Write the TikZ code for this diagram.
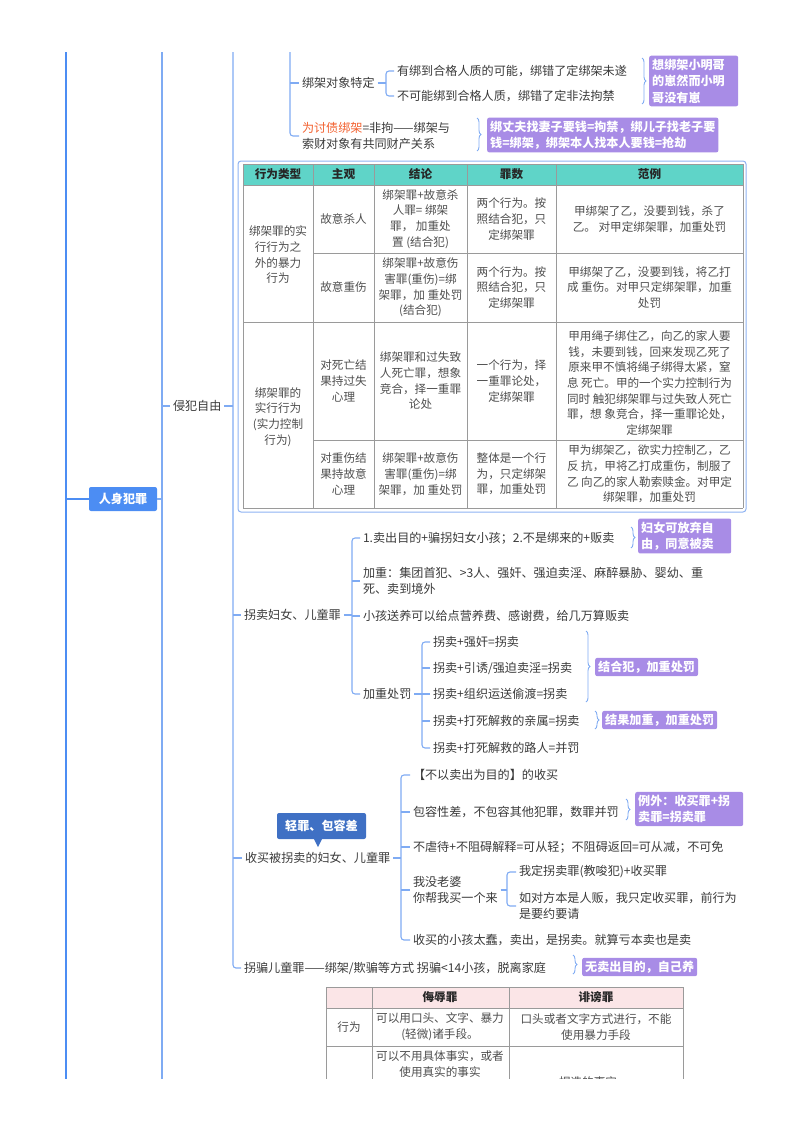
\documentclass[tikz,border=0pt]{standalone}
\usepackage{fontspec}
\setmainfont{Noto Sans CJK SC}
\usetikzlibrary{decorations.pathreplacing,calc}
\definecolor{lineb}{HTML}{7FABF3}
\definecolor{mainb}{HTML}{4C8DF3}
\definecolor{txtc}{HTML}{3A3A3A}
\definecolor{purp}{HTML}{A88CE6}
\definecolor{hteal}{HTML}{5FD4C8}
\definecolor{pinkh}{HTML}{FBE5E7}
\definecolor{gridc}{HTML}{9A9A9A}
\definecolor{cbox}{HTML}{3F70C4}
\definecolor{orng}{HTML}{F2602E}
\definecolor{tblb}{HTML}{8DB2F2}
\tikzset{
 txt/.style={anchor=west, inner sep=0pt, outer sep=3pt, align=left, text=txtc, font=\fontsize{12.1}{16.5}\selectfont},
 pbox/.style={anchor=west, fill=purp, text=white, inner sep=3pt, rounded corners=2pt, align=left, font=\bfseries\fontsize{12.1}{16.5}\selectfont},
 brl/.style={draw=lineb, line width=1.1pt, rounded corners=3pt},
 brc/.style={draw=lineb, line width=0.9pt, decorate, decoration={brace, amplitude=4pt}},
 cell/.style={align=center, inner sep=0pt, text=txtc!90, font=\fontsize{11.6}{15.7}\selectfont},
 hcell/.style={align=center, inner sep=0pt, text=black!85, font=\bfseries\fontsize{11.6}{15}\selectfont},
 gridl/.style={draw=gridc, line width=0.6pt},
}
\begin{document}
\begin{tikzpicture}[x=1pt,y=-1pt]
\useasboundingbox (0,0) rectangle (800,1132);
\begin{scope}
\clip (0,53) rectangle (800,1078);
% ---- main trunks
\draw[mainb, line width=1.8pt] (66,40) -- (66,1090);
\node[fill=mainb, text=white, font=\bfseries\fontsize{12.1}{15}\selectfont, rounded corners=2pt, minimum width=68pt, minimum height=24pt, inner sep=0pt] (rs) at (123,499) {人身犯罪};
\draw[mainb, line width=1.3pt] (66,499) -- (rs.west);
\draw[lineb, line width=1.3pt] (162,40) -- (162,1090);
\draw[lineb, line width=1.3pt] (rs.east) -- (162,499);
\coordinate (bA) at (162,0);
\coordinate (bB) at (233,0);
\node[txt] (qf) at (170,406) {侵犯自由};
\draw[brl] (qf.west -| bA) -- (qf.west);
\draw[brl] (qf.east) -- (qf.east -| bB);
\node[txt] (gm) at (241,615) {拐卖妇女、儿童罪};
\node[txt] (sm) at (242,858) {收买被拐卖的妇女、儿童罪};
\node[txt] (gp) at (241,968) {拐骗儿童罪——绑架/欺骗等方式 拐骗<14小孩，脱离家庭};
\draw[brl] (233,40) -- (gp.west -| bB) -- (gp.west);
\draw[brl] (gm.west -| bB) -- (gm.west);
\draw[brl] (sm.west -| bB) -- (sm.west);
% ---- top section
\coordinate (bC) at (290,0);
\node[txt] (dx) at (299,83) {绑架对象特定};
\node[txt] (tz) at (299,136) {\textcolor{orng}{为讨债绑架}=非拘——绑架与\\索财对象有共同财产关系};
\draw[brl] (290,40) -- (tz.west -| bC) -- (tz.west);
\draw[brl] (dx.west -| bC) -- (dx.west);
\coordinate (bD) at (386,0);
\node[txt] (d1) at (394,71) {有绑到合格人质的可能，绑错了定绑架未遂};
\node[txt] (d2) at (394,96) {不可能绑到合格人质，绑错了定非法拘禁};
\draw[brl] (dx.east) -- (dx.east -| bD);
\draw[brl] (d1.west) -- (d1.west -| bD) -- (d2.west -| bD) -- (d2.west);
\draw[brc] (642,58) -- (642,104);
\node[pbox, text width=83pt] (p1) at (649,81) {想绑架小明哥\\的崽然而小明\\哥没有崽};
\draw[brc] (477,118) -- (477,151);
\node[pbox] (p2) at (487,135) {绑丈夫找妻子要钱=拘禁，绑儿子找老子要\\钱=绑架，绑架本人找本人要钱=抢劫};
% ---- table 1
\draw[tblb, line width=1pt, rounded corners=3pt] (238,161) rectangle (746,512);
\fill[hteal] (243,164) rectangle (743,185);
\draw[gridl] (243,164) -- (743,164);
\draw[gridl] (243,185) -- (743,185);
\draw[gridl] (313,253) -- (743,253);
\draw[gridl] (243,322) -- (743,322);
\draw[gridl] (313,440) -- (743,440);
\draw[gridl] (243,508) -- (743,508);
\foreach \xx in {243,313,374,467,556,743} \draw[gridl] (\xx,164) -- (\xx,508);
\node[hcell] (h1) at (278,174.5) {行为类型};
\node[hcell] (h2) at (343.5,174.5) {主观};
\node[hcell] (h3) at (420.5,174.5) {结论};
\node[hcell] (h4) at (511.5,174.5) {罪数};
\node[hcell] (h5) at (649.5,174.5) {范例};
\node[cell] (t11) at (278,255) {绑架罪的实\\行行为之\\外的暴力\\行为};
\node[cell] (t12) at (343.5,219) {故意杀人};
\node[cell] (t13) at (420.5,219) {绑架罪+故意杀\\人罪= 绑架\\罪， 加重处\\置 (结合犯)};
\node[cell] (t14) at (511.5,219) {两个行为。按\\照结合犯，只\\定绑架罪};
\node[cell] (t15) at (649.5,219) {甲绑架了乙，没要到钱，杀了\\乙。 对甲定绑架罪，加重处罚};
\node[cell] (t22) at (343.5,287.5) {故意重伤};
\node[cell] (t23) at (420.5,287.5) {绑架罪+故意伤\\害罪(重伤)=绑\\架罪，加 重处罚\\(结合犯)};
\node[cell] (t24) at (511.5,287.5) {两个行为。按\\照结合犯，只\\定绑架罪};
\node[cell] (t25) at (649.5,287.5) {甲绑架了乙，没要到钱，将乙打\\成 重伤。对甲只定绑架罪，加重\\处罚};
\node[cell] (t31) at (278,417) {绑架罪的\\实行行为\\(实力控制\\行为)};
\node[cell] (t32) at (343.5,381) {对死亡结\\果持过失\\心理};
\node[cell] (t33) at (420.5,381) {绑架罪和过失致\\人死亡罪，想象\\竞合，择一重罪\\论处};
\node[cell] (t34) at (511.5,381) {一个行为，择\\一重罪论处，\\定绑架罪};
\node[cell] (t35) at (649.5,383) {甲用绳子绑住乙，向乙的家人要\\钱，未要到钱，回来发现乙死了\\原来甲不慎将绳子绑得太紧，窒\\息 死亡。甲的一个实力控制行为\\同时 触犯绑架罪与过失致人死亡\\罪，想 象竞合，择一重罪论处，\\定绑架罪};
\node[cell] (t42) at (343.5,474) {对重伤结\\果持故意\\心理};
\node[cell] (t43) at (420.5,474) {绑架罪+故意伤\\害罪(重伤)=绑\\架罪，加 重处罚};
\node[cell] (t44) at (511.5,474) {整体是一个行\\为，只定绑架\\罪，加重处罚};
\node[cell] (t45) at (649.5,474) {甲为绑架乙，欲实力控制乙，乙\\反 抗，甲将乙打成重伤，制服了\\乙 向乙的家人勒索赎金。对甲定\\绑架罪，加重处罚};
% ---- 拐卖
\coordinate (bE) at (352,0);
\node[txt] (g1) at (360,538) {1.卖出目的+骗拐妇女小孩；2.不是绑来的+贩卖};
\node[txt] (g2) at (360,581) {加重：集团首犯、>3人、强奸、强迫卖淫、麻醉暴胁、婴幼、重\\死、卖到境外};
\node[txt] (g3) at (360,616) {小孩送养可以给点营养费、感谢费，给几万算贩卖};
\node[txt] (g4) at (360,694) {加重处罚};
\draw[brl] (gm.east) -- (gm.east -| bE);
\draw[brl] (g1.west) -- (g1.west -| bE) -- (g4.west -| bE) -- (g4.west);
\draw[brl] (g2.west -| bE) -- (g2.west);
\draw[brl] (g3.west -| bE) -- (g3.west);
\draw[brc] (631,527) -- (631,548);
\node[pbox, text width=87pt] (p3) at (638,536) {妇女可放弃自\\由，同意被卖};
\coordinate (bF) at (422,0);
\node[txt] (k1) at (430,642) {拐卖+强奸=拐卖};
\node[txt] (k2) at (430,668) {拐卖+引诱/强迫卖淫=拐卖};
\node[txt] (k3) at (430,694) {拐卖+组织运送偷渡=拐卖};
\node[txt] (k4) at (430,721) {拐卖+打死解救的亲属=拐卖};
\node[txt] (k5) at (430,748) {拐卖+打死解救的路人=并罚};
\draw[brl] (g4.east) -- (g4.east -| bF);
\draw[brl] (k1.west) -- (k1.west -| bF) -- (k5.west -| bF) -- (k5.west);
\draw[brl] (k2.west -| bF) -- (k2.west);
\draw[brl] (k3.west -| bF) -- (k3.west);
\draw[brl] (k4.west -| bF) -- (k4.west);
\draw[brc] (586,631) -- (586,702);
\node[pbox] (p4) at (595,667) {结合犯，加重处罚};
\draw[brc] (595,711) -- (595,729);
\node[pbox] (p5) at (602,720) {结果加重，加重处罚};
% ---- 收买
\coordinate (bG) at (401,0);
\node[txt] (s1) at (410,775) {【不以卖出为目的】的收买};
\node[txt] (s2) at (410,812) {包容性差，不包容其他犯罪，数罪并罚};
\node[txt] (s3) at (410,847) {不虐待+不阻碍解释=可从轻；不阻碍返回=可从减，不可免};
\node[txt] (s4) at (410,890) {我没老婆\\你帮我买一个来};
\node[txt] (s5) at (410,940) {收买的小孩太蠢，卖出，是拐卖。就算亏本卖也是卖};
\draw[brl] (sm.east) -- (sm.east -| bG);
\draw[brl] (s1.west) -- (s1.west -| bG) -- (s5.west -| bG) -- (s5.west);
\draw[brl] (s2.west -| bG) -- (s2.west);
\draw[brl] (s3.west -| bG) -- (s3.west);
\draw[brl] (s4.west -| bG) -- (s4.west);
\coordinate (bH) at (507,0);
\node[txt] (w1) at (516,872) {我定拐卖罪(教唆犯)+收买罪};
\node[txt] (w2) at (516,906) {如对方本是人贩，我只定收买罪，前行为\\是要约要请};
\draw[brl] (s4.east) -- (s4.east -| bH);
\draw[brl] (w1.west) -- (w1.west -| bH) -- (w2.west -| bH) -- (w2.west);
\draw[brc] (626,799) -- (626,820);
\node[pbox, text width=102pt] (p6) at (635,809) {例外：收买罪+拐\\卖罪=拐卖罪};
\node[fill=cbox, text=white, font=\bfseries\fontsize{12.1}{15}\selectfont, rounded corners=2pt, minimum width=89pt, minimum height=26pt, inner sep=0pt] (cb) at (321.5,826) {轻罪、包容差};
\fill[cbox] ($(cb.south)+(-8,-1)$) -- ($(cb.south)+(-3.5,8)$) -- ($(cb.south)+(1,-1)$) -- cycle;
% ---- 拐骗
\draw[brc] (573,955) -- (573,974);
\node[pbox] (p7) at (582,967) {无卖出目的，自己养};
% ---- bottom table
\fill[pinkh] (326,987) rectangle (683,1008);
\draw[gridl] (326,987) -- (683,987);
\draw[gridl] (326,1008) -- (683,1008);
\draw[gridl] (326,1046) -- (683,1046);
\foreach \xx in {326,372,509,683} \draw[gridl] (\xx,987) -- (\xx,1090);
\node[hcell] (u2) at (440,997) {侮辱罪};
\node[hcell] (u3) at (596,997) {诽谤罪};
\node[cell] (v1) at (349,1027) {行为};
\node[cell] (v2) at (440,1027) {可以用口头、文字、暴力\\(轻微)诸手段。};
\node[cell] (v3) at (596,1027) {口头或者文字方式进行，不能\\使用暴力手段};
\node[cell] (x2) at (440,1064) {可以不用具体事实，或者\\使用真实的事实};
\node[cell] (x3) at (588,1082) {捏造的事实};
\end{scope}
\end{tikzpicture}
\end{document}
